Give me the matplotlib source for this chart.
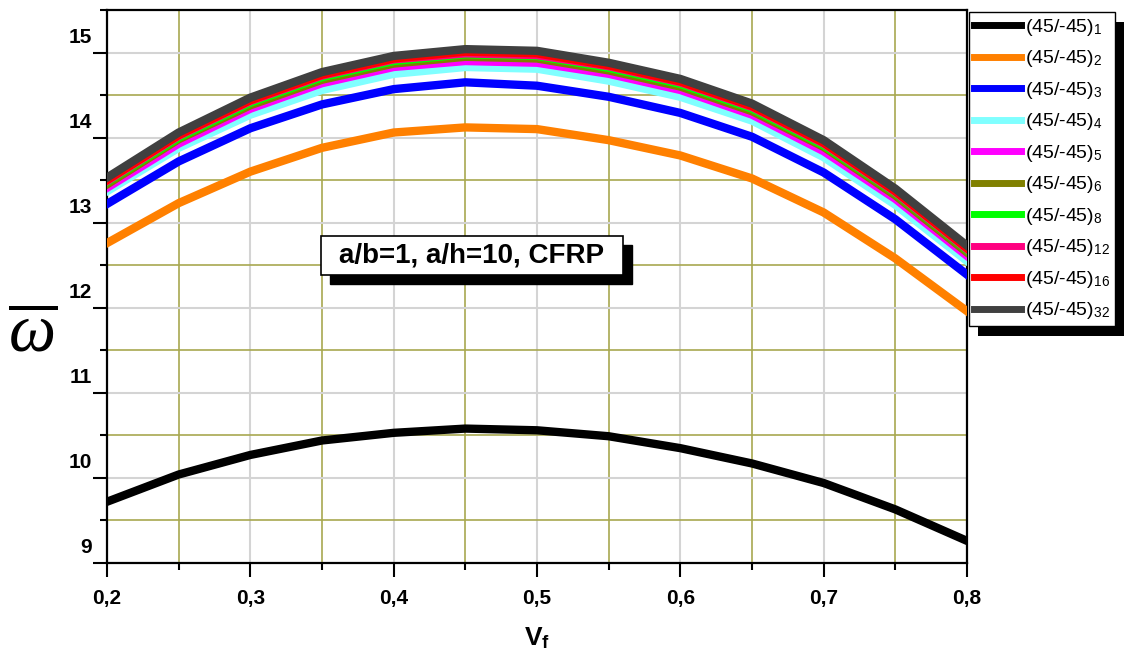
import matplotlib
matplotlib.use("Agg")
import matplotlib.pyplot as plt
from matplotlib.ticker import MultipleLocator
from matplotlib.transforms import ScaledTranslation
from matplotlib.patches import Rectangle

plt.rcParams['font.family'] = ['Liberation Sans', 'DejaVu Sans']
plt.rcParams['mathtext.fontset'] = 'custom'
plt.rcParams['mathtext.rm'] = 'Liberation Sans'
plt.rcParams['mathtext.bf'] = 'Liberation Sans:bold'
plt.rcParams['mathtext.it'] = 'Liberation Serif:italic'

# fibre volume fraction
vf = [0.20, 0.25, 0.30, 0.35, 0.40, 0.45, 0.50, 0.55, 0.60, 0.65, 0.70, 0.75, 0.80]

# dimensionless frequency for each lay-up (45/-45)_n
w_n1 = [9.72, 10.04, 10.27, 10.44, 10.53, 10.58, 10.56, 10.49, 10.35, 10.17, 9.94, 9.63, 9.26]
w_n2 = [12.76, 13.23, 13.60, 13.88, 14.06, 14.12, 14.10, 13.97, 13.79, 13.52, 13.12, 12.58, 11.96]
w_n3 = [13.22, 13.72, 14.11, 14.39, 14.57, 14.65, 14.61, 14.48, 14.29, 14.01, 13.59, 13.04, 12.39]
w_n4 = [13.37, 13.88, 14.27, 14.56, 14.75, 14.83, 14.81, 14.67, 14.48, 14.20, 13.77, 13.21, 12.55]
w_n5 = [13.41, 13.93, 14.34, 14.64, 14.83, 14.90, 14.88, 14.75, 14.56, 14.27, 13.84, 13.28, 12.61]
w_n6 = [13.45, 13.98, 14.38, 14.68, 14.87, 14.95, 14.93, 14.79, 14.60, 14.31, 13.89, 13.32, 12.65]
w_n8 = [13.48, 14.00, 14.41, 14.71, 14.90, 14.98, 14.96, 14.82, 14.63, 14.34, 13.91, 13.35, 12.68]
w_n12 = [13.49, 14.02, 14.43, 14.73, 14.92, 14.99, 14.97, 14.84, 14.65, 14.36, 13.93, 13.36, 12.69]
w_n16 = [13.50, 14.03, 14.44, 14.74, 14.93, 15.01, 14.99, 14.85, 14.66, 14.37, 13.94, 13.37, 12.70]
w_n32 = [13.53, 14.06, 14.47, 14.77, 14.96, 15.04, 15.02, 14.88, 14.69, 14.40, 13.97, 13.40, 12.73]

n_layers = ['1', '2', '3', '4', '5', '6', '8', '12', '16', '32']
colors = ['#000000', '#FF8000', '#0000FF', '#80FFFF', '#FF00FF',
          '#808000', '#00FF00', '#FF0080', '#FF0000', '#404040']
x_ticks = [0.2, 0.3, 0.4, 0.5, 0.6, 0.7, 0.8]
x_ticklabels = ['0,2', '0,3', '0,4', '0,5', '0,6', '0,7', '0,8']
y_ticks = [9, 10, 11, 12, 13, 14, 15]
note = 'a/b=1, a/h=10, CFRP'

W, H = 1124, 655
fig = plt.figure(figsize=(W / 100, H / 100), dpi=100)
ax = fig.add_axes([107 / W, 1 - 563 / H, 860 / W, 553 / H])

series = [w_n1, w_n2, w_n3, w_n4, w_n5, w_n6, w_n8, w_n12, w_n16, w_n32]
lines = []
for w, c, n in zip(series, colors, n_layers):
    ln, = ax.plot(vf, w, color=c, lw=6, solid_joinstyle='round',
                  label=r'(45/-45)$_{%s}$' % n, zorder=3)
    lines.append(ln)

ax.set_xlim(0.2, 0.8)
ax.set_ylim(9, 15.5)
ax.set_xticks(x_ticks)
ax.set_xticklabels(x_ticklabels)
ax.set_yticks(y_ticks)
ax.xaxis.set_minor_locator(MultipleLocator(0.05))
ax.yaxis.set_minor_locator(MultipleLocator(0.5))

# grey major / olive minor grid
ax.set_axisbelow(True)
ax.grid(which='major', color='#d4d4d4', lw=1.5)
ax.grid(which='minor', color='#a8a850', lw=1.2)

for s in ax.spines.values():
    s.set_linewidth(1.6)
ax.tick_params(which='major', direction='out', length=10, width=1.5,
               labelsize=15, pad=9)
ax.tick_params(which='minor', direction='out', length=5, width=1.5)
for lab in ax.get_xticklabels() + ax.get_yticklabels():
    lab.set_fontweight('bold')
ax.tick_params(axis='y', pad=1)
# y labels sit a little above their ticks
shift = ScaledTranslation(0, 17 / 100, fig.dpi_scale_trans)
for lab in ax.get_yticklabels():
    lab.set_transform(lab.get_transform() + shift)

fig.text(537 / W, 1 - 638 / H, r'$\mathbf{V}_{\mathbf{f}}$', fontsize=19,
         ha='center', va='center')
fig.text(33 / W, 1 - 334 / H, r'$\overline{\omega}$', fontsize=48,
         ha='center', va='center')

# annotation box with solid drop shadow
bx0, bx1 = (321 - 107) / 860, (623 - 107) / 860
by0, by1 = (563 - 275) / 553, (563 - 236) / 553
ax.add_patch(Rectangle((bx0 + 9 / 860, by0 - 9 / 553), bx1 - bx0, by1 - by0,
                       transform=ax.transAxes, fc='black', ec='black', zorder=6))
ax.add_patch(Rectangle((bx0, by0), bx1 - bx0, by1 - by0,
                       transform=ax.transAxes, fc='white', ec='black', lw=1.2, zorder=7))
ax.text((bx0 + bx1) / 2, (by0 + by1) / 2, note, transform=ax.transAxes,
        fontsize=20, fontweight='bold', ha='center', va='center', zorder=8)

leg = fig.legend(handles=lines, loc='upper left',
                 bbox_to_anchor=(969 / W, 1 - 12 / H), borderaxespad=0,
                 fontsize=14, frameon=True, fancybox=False, framealpha=1,
                 edgecolor='black', handlelength=2.4, handletextpad=0.25,
                 labelspacing=0.54, borderpad=0.25)
leg.get_frame().set_linewidth(1.0)
for h in leg.legend_handles:
    h.set_linewidth(5)

fig.canvas.draw()
bb = leg.get_window_extent()
fig.add_artist(Rectangle(((bb.x0 + 9) / W, (bb.y0 - 10) / H), bb.width / W, bb.height / H,
                         transform=fig.transFigure, fc='black', ec='none', zorder=1))

fig.savefig('out.png', dpi=100)
